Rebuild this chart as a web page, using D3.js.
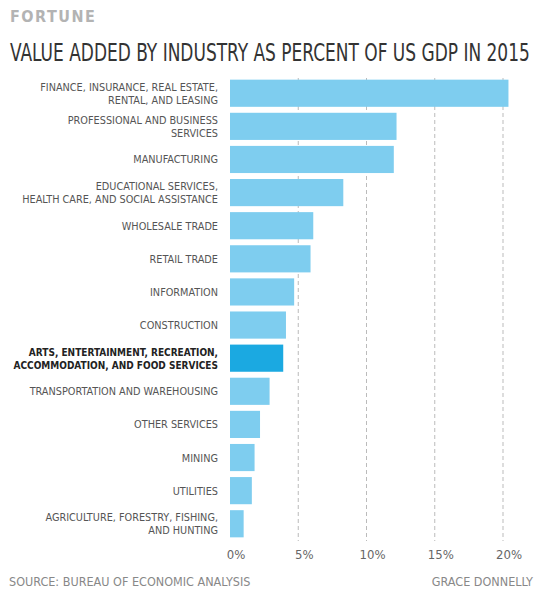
<!DOCTYPE html>
<html>
<head>
<meta charset="utf-8">
<script src="https://cdn.jsdelivr.net/npm/d3@7"></script>
<style>
  body { margin: 0; background: #fff; }
  text { font-family: "Liberation Sans Narrow", "DejaVu Sans Condensed", "Roboto", sans-serif; }
</style>
</head>
<body>
<svg id="chart" width="545" height="600"></svg>
<script>
const industries = [
  ["FINANCE, INSURANCE, REAL ESTATE,", "RENTAL, AND LEASING"],
  ["PROFESSIONAL AND BUSINESS", "SERVICES"],
  ["MANUFACTURING"],
  ["EDUCATIONAL SERVICES,", "HEALTH CARE, AND SOCIAL ASSISTANCE"],
  ["WHOLESALE TRADE"],
  ["RETAIL TRADE"],
  ["INFORMATION"],
  ["CONSTRUCTION"],
  ["ARTS, ENTERTAINMENT, RECREATION,", "ACCOMMODATION, AND FOOD SERVICES"],
  ["TRANSPORTATION AND WAREHOUSING"],
  ["OTHER SERVICES"],
  ["MINING"],
  ["UTILITIES"],
  ["AGRICULTURE, FORESTRY, FISHING,", "AND HUNTING"]
];
const shares = [20.4, 12.2, 12.0, 8.3, 6.1, 5.9, 4.7, 4.1, 3.9, 2.9, 2.2, 1.8, 1.6, 1.0];
const highlighted = 8;
const ticks = [0, 5, 10, 15, 20];

const svg = d3.select("#chart");

// x: 0% at 230, 20% at 503
var x = d3.scaleLinear().domain([0, 20]).range([230, 503]);
var y = d3.scaleBand().domain(d3.range(industries.length)).range([78, 539]).paddingInner(0.18).paddingOuter(0.05);

svg.append("text").attr("x", 10).attr("y", 22)
  .attr("fill", "#b3b3b3").attr("font-size", 16).attr("font-weight", "bold")
  .attr("letter-spacing", 1.5).text("FORTUNE");

// title is condensed by a horizontal scale to fit the width
var title = svg.append("text").attr("x", 0).attr("y", 0)
  .attr("fill", "#333").attr("font-size", 25)
  .text("VALUE ADDED BY INDUSTRY AS PERCENT OF US GDP IN 2015");
var tw = title.node().getComputedTextLength();
title.attr("transform", "translate(10,61) scale(" + (520 / tw) + ",1)");

// gridlines
svg.append("g").selectAll("line").data(ticks.slice(1)).join("line")
  .attr("x1", d => x(d)).attr("x2", d => x(d))
  .attr("y1", 78).attr("y2", 541)
  .attr("stroke", "#aaa").attr("stroke-width", 0.8).attr("stroke-dasharray", "4,3");

svg.append("g").selectAll("rect").data(shares).join("rect")
  .attr("x", x(0)).attr("y", (d, i) => y(i))
  .attr("width", d => x(d) - x(0)).attr("height", y.bandwidth())
  .attr("fill", (d, i) => i === highlighted ? "#1ba9e1" : "#7ecdef");

const labels = svg.append("g").selectAll("text").data(industries).join("text")
  .attr("text-anchor", "end")
  .attr("font-size", (d, i) => i === highlighted ? 10 : 10.8)
  .attr("fill", (d, i) => i === highlighted ? "#222" : "#555")
  .attr("font-weight", (d, i) => i === highlighted ? "bold" : "normal");
labels.each(function (lines, i) {
  var c = y(i) + y.bandwidth() / 2;
  var start = c - (lines.length - 1) * 6.5 + 4;
  d3.select(this).selectAll("tspan").data(lines).join("tspan")
    .attr("x", 218).attr("y", (d, j) => start + j * 13).text(d => d);
});

svg.append("g").selectAll("text").data(ticks).join("text")
  .attr("x", d => x(d) + 6).attr("y", 559).attr("text-anchor", "middle")
  .attr("font-size", 13).attr("fill", "#666").text(d => d + "%");

svg.append("text").attr("x", 9).attr("y", 586).attr("font-size", 12.5)
  .attr("fill", "#888").text("SOURCE: BUREAU OF ECONOMIC ANALYSIS");
svg.append("text").attr("x", 533).attr("y", 586).attr("text-anchor", "end")
  .attr("font-size", 12.5).attr("fill", "#888").text("GRACE DONNELLY");
</script>
</body>
</html>
